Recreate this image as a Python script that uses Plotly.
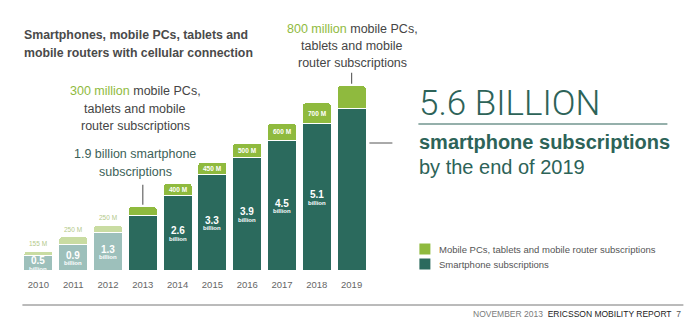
import plotly.graph_objects as go

# ---- data ----
years = [2010, 2011, 2012, 2013, 2014, 2015, 2016, 2017, 2018, 2019]
smartphone_bn = [0.5, 0.9, 1.3, 1.9, 2.6, 3.3, 3.9, 4.5, 5.1, 5.6]
other_bn = [0.155, 0.25, 0.25, 0.3, 0.4, 0.45, 0.5, 0.6, 0.7, 0.8]
smart_labels = ["0.5", "0.9", "1.3", "", "2.6", "3.3", "3.9", "4.5", "5.1", ""]
other_labels = ["155 M", "250 M", "250 M", "", "400 M", "450 M", "500 M", "600 M", "700 M", ""]
historic = [True, True, True, False, False, False, False, False, False, False]

DARK = "#2b6a5d"
GREEN = "#8fba3e"
DARK_LIGHT = "#9dc0bb"
GREEN_LIGHT = "#c9dca2"
TEAL_TXT = "#2d6358"
GRAY = "#454545"

W, Hh = 695, 324
L, R, T, B = 20.6, 326.4, 60, 54
PW, PH = W - L - R, Hh - T - B
YMAX = PH / 28.8

def px(x):
    return (x - L) / PW

def py(y):
    return (Hh - B - y) / PH

FONT = "Liberation Sans"

fig = go.Figure()
fig.add_trace(go.Bar(
    x=years, y=smartphone_bn, name="Smartphone subscriptions",
    marker=dict(color=[DARK_LIGHT if h else DARK for h in historic],
                line=dict(color="white", width=1)),
    width=0.83, hoverinfo="skip", showlegend=False))
fig.add_trace(go.Bar(
    x=years, y=other_bn, name="Mobile PCs, tablets and mobile router subscriptions",
    marker=dict(color=[GREEN_LIGHT if h else GREEN for h in historic],
                line=dict(color="white", width=1)),
    width=0.83, hoverinfo="skip", showlegend=False))

ann = []
shapes = []

# bar labels
for yr, s, o, sl, ol, h in zip(years, smartphone_bn, other_bn, smart_labels, other_labels, historic):
    if sl:
        ann.append(dict(x=yr, y=s / 2, xref="x", yref="y", text="<b>%s</b>" % sl,
                        showarrow=False, yshift=2, font=dict(family=FONT, size=10, color="white")))
        ann.append(dict(x=yr, y=s / 2, xref="x", yref="y", text="<b>billion</b>",
                        showarrow=False, yshift=-6, font=dict(family=FONT, size=6, color="white")))
    if ol:
        if h:
            ann.append(dict(x=yr, y=s + o, xref="x", yref="y", text=ol, showarrow=False,
                            yanchor="bottom", yshift=2,
                            font=dict(family=FONT, size=6.5, color="#b3c98a")))
        else:
            ann.append(dict(x=yr, y=s + o / 2, xref="x", yref="y", text="<b>%s</b>" % ol,
                            showarrow=False, font=dict(family=FONT, size=6.5, color="white")))

def text_line(x, y, t, size, color=GRAY, anchor="left", family=FONT, weight=None):
    f = dict(family=family, size=size, color=color)
    if weight:
        f["weight"] = weight
    ann.append(dict(x=px(x), y=py(y), xref="paper", yref="paper", text=t, showarrow=False,
                    xanchor=anchor, yanchor="middle", font=f))

# title
text_line(22, 35, "<b>Smartphones, mobile PCs, tablets and</b>", 12.3, "#4a4a4a")
text_line(22, 53, "<b>mobile routers with cellular connection</b>", 12.3, "#4a4a4a")

# 300 million callout
text_line(135, 91, "<span style='color:%s'>300 million</span> mobile PCs," % GREEN, 12.5, GRAY, "center")
text_line(135, 108.5, "tablets and mobile", 12.5, GRAY, "center")
text_line(135, 126, "router subscriptions", 12.5, GRAY, "center")
text_line(135, 154, "1.9 billion smartphone", 12.5, "#3d5f58", "center")
text_line(135, 172, "subscriptions", 12.5, "#3d5f58", "center")

# 800 million callout
text_line(352, 29, "<span style='color:%s'>800 million</span> mobile PCs," % GREEN, 12.5, GRAY, "center")
text_line(352, 46, "tablets and mobile", 12.5, GRAY, "center")
text_line(352, 63, "router subscriptions", 12.5, GRAY, "center")

# pointer lines
for idx, (top0, top1) in {3: (2, 22), 9: (2, 13)}.items():
    tot = smartphone_bn[idx] + other_bn[idx]
    shapes.append(dict(type="line", xref="x", yref="y", ysizemode="pixel", yanchor=tot,
                       x0=years[idx], x1=years[idx], y0=top0, y1=top1,
                       line=dict(color="#666666", width=1.2)))

# right block
text_line(417, 103, "5.6 BILLION", 35, TEAL_TXT, family="Roboto", weight=300)
shapes.append(dict(type="line", xref="paper", yref="paper", x0=px(418), x1=px(667),
                   y0=py(124), y1=py(124), line=dict(color=TEAL_TXT, width=1.2)))
shapes.append(dict(type="line", xref="paper", yref="paper", x0=px(369), x1=px(392),
                   y0=py(143), y1=py(143), line=dict(color="#555555", width=1)))
text_line(417, 142, "<b>smartphone subscriptions</b>", 20, TEAL_TXT)
text_line(417, 167, "by the end of 2019", 20, TEAL_TXT)

# legend
for yy, col, lab in [(249, GREEN, "Mobile PCs, tablets and mobile router subscriptions"),
                     (264, DARK, "Smartphone subscriptions")]:
    shapes.append(dict(type="rect", xref="paper", yref="paper", x0=px(419), x1=px(430),
                       y0=py(yy - 5.5), y1=py(yy + 5.5), fillcolor=col, line=dict(width=0)))
    text_line(437, yy, lab, 9.5, "#555555")

# footer
shapes.append(dict(type="line", xref="paper", yref="paper", x0=px(22), x1=px(683),
                   y0=py(305), y1=py(305), line=dict(color="#777777", width=1)))
text_line(683, 314,
          "<span style='color:#7a7a7a'>NOVEMBER 2013</span>  "
          "<span style='color:#222222'>ERICSSON MOBILITY REPORT</span>  "
          "<span style='color:#555555'>7</span>", 8.5, "#555555", "right")

fig.update_layout(
    width=W, height=Hh,
    margin=dict(l=L, r=R, t=T, b=B, pad=0),
    paper_bgcolor="white", plot_bgcolor="white",
    barmode="stack", barcornerradius=3,
    showlegend=False,
    annotations=ann, shapes=shapes,
    xaxis=dict(range=[2009.5, 2019.5], tickvals=years, ticktext=[str(y) for y in years],
               showgrid=False, zeroline=False, showline=False,
               ticks="outside", ticklen=6, tickcolor="rgba(0,0,0,0)",
               tickfont=dict(family=FONT, size=9.5, color="#666666")),
    yaxis=dict(range=[0, YMAX], visible=False, showgrid=False, zeroline=False),
)

fig.write_html("out.html")
